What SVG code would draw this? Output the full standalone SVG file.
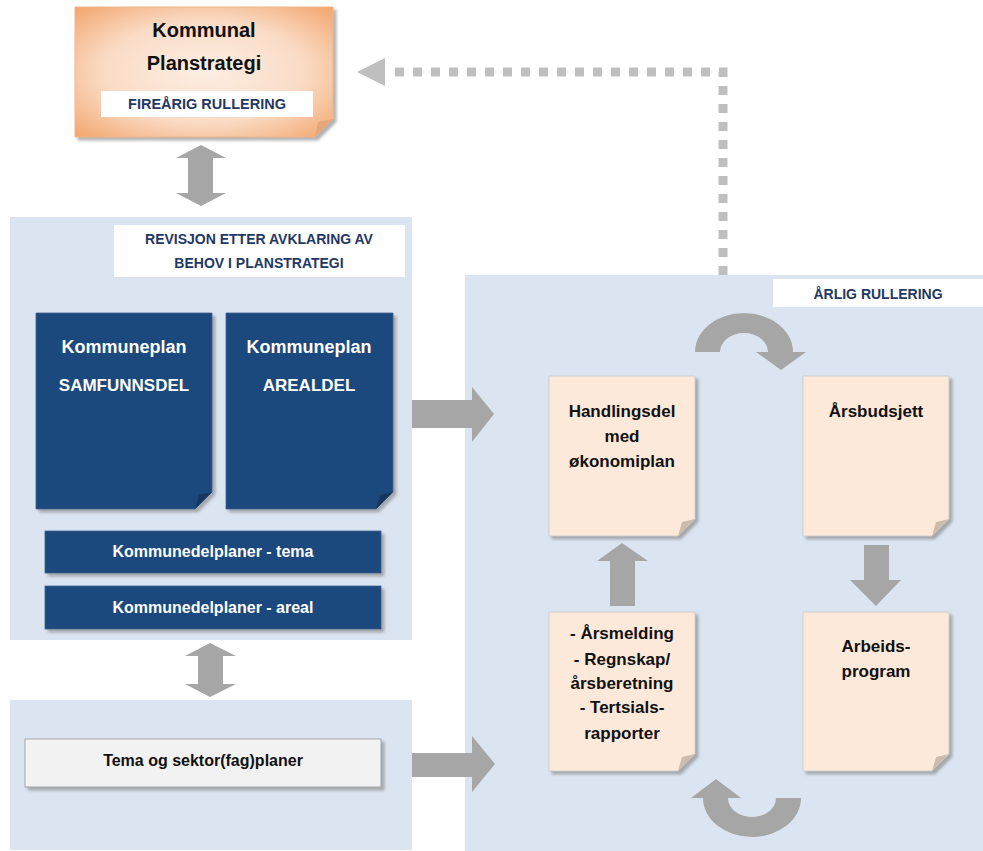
<svg xmlns="http://www.w3.org/2000/svg" width="983" height="851" viewBox="0 0 983 851">
<style>
.panel{fill:#DBE5F1}
.lbl{fill:#FFFFFF}
.navy{font-family:"Liberation Sans",Arial,sans-serif;font-weight:bold;fill:#1F3864;text-anchor:middle}
.wt{font-family:"Liberation Sans",Arial,sans-serif;font-weight:bold;fill:#FFFFFF;text-anchor:middle}
.bk{font-family:"Liberation Sans",Arial,sans-serif;font-weight:bold;fill:#111111;text-anchor:middle}
.blue{fill:#1F497D;stroke:#3A5F8F;stroke-width:0.8}
.bluefold{fill:#16365E}
.peach{fill:#FDE9D9;stroke:#C8C8C8;stroke-width:0.8}
.peachfold{fill:#CDBBAC}
.arr{fill:#A6A6A6}
</style>
<defs>
<filter id="sh" x="-10%" y="-10%" width="130%" height="130%">
<feDropShadow dx="3" dy="3" stdDeviation="1.5" flood-color="#7F7F7F" flood-opacity="0.6"/>
</filter>
<radialGradient id="og" cx="0.5" cy="0.5" r="0.7">
<stop offset="0" stop-color="#FDEEE3"/>
<stop offset="0.55" stop-color="#FADCC6"/>
<stop offset="1" stop-color="#F3A66E"/>
</radialGradient>
</defs>

<!-- panels -->
<rect id="panel-left" class="panel" x="10" y="217" width="402" height="423"/>
<rect id="panel-bottom" class="panel" x="10" y="700" width="402" height="150"/>
<rect id="panel-right" class="panel" x="465" y="275" width="518" height="576"/>

<!-- connectors -->
<g id="connectors">
<path d="M723,275 V72 H392" fill="none" stroke="#BFBFBF" stroke-width="9" stroke-dasharray="9 9"/>
<polygon points="357,72 385,58 385,86" fill="#BFBFBF"/>
<polygon class="arr" points="201,145 226,158 213,158 213,193 226,193 201,206 176,193 188,193 188,158 176,158"/>
<polygon class="arr" points="210,643 236,656 223,656 223,684 236,684 210,697 185,684 198,684 198,656 185,656"/>
<polygon class="arr" points="412,400 472,400 472,387 494,414 472,442 472,428 412,428"/>
<polygon class="arr" points="412,753 472,753 472,736 495,764 472,792 472,777 412,777"/>
<polygon class="arr" points="622,543 648,561 635,561 635,606 610,606 610,561 597,561"/>
<polygon class="arr" points="876,606 850,580 864,580 864,545 889,545 889,580 901,580"/>
<path class="arr" d="M695,352 A49,39 0 0 1 793,352 L806,352 L781,370 L756,352 L768,352 A24,19 0 0 0 720,352 Z"/>
<path class="arr" d="M801,798 A49,39 0 0 1 703,798 L691,798 L716,779 L741,798 L728,798 A24,19 0 0 0 776,798 Z"/>
</g>

<!-- top node -->
<g id="planstrategi">
<path d="M75,7 H333 V119 L315,137 H75 Z" fill="url(#og)" stroke="#F0B58A" stroke-width="1" filter="url(#sh)"/>
<polygon points="315,137 318,122 333,119" fill="#E5A779"/>
<rect class="lbl" x="101" y="91" width="212" height="26"/>
<text class="bk" x="204" y="37" font-size="20">Kommunal</text>
<text class="bk" x="204" y="70" font-size="20">Planstrategi</text>
<text class="navy" x="207" y="109" font-size="14.5">FIREÅRIG RULLERING</text>
</g>

<g id="revisjon-label">
<rect class="lbl" x="114" y="225" width="291" height="52"/>
<text class="navy" x="259" y="244" font-size="14">REVISJON ETTER AVKLARING AV</text>
<text class="navy" x="259" y="268" font-size="14">BEHOV I PLANSTRATEGI</text>
</g>

<g id="samfunnsdel">
<path class="blue" d="M36,313 H212 V492 L195,509 H36 Z" filter="url(#sh)"/>
<polygon class="bluefold" points="195,509 199,495 212,492"/>
<text class="wt" x="124" y="353" font-size="18">Kommuneplan</text>
<text class="wt" x="124" y="391" font-size="17">SAMFUNNSDEL</text>
</g>

<g id="arealdel">
<path class="blue" d="M226,313 H393 V492 L376,509 H226 Z" filter="url(#sh)"/>
<polygon class="bluefold" points="376,509 380,495 393,492"/>
<text class="wt" x="309" y="353" font-size="18">Kommuneplan</text>
<text class="wt" x="309" y="391" font-size="17">AREALDEL</text>
</g>

<g id="kdp-tema">
<rect class="blue" x="45" y="531" width="336" height="42" filter="url(#sh)"/>
<text class="wt" x="213" y="557" font-size="16">Kommunedelplaner - tema</text>
</g>

<g id="kdp-areal">
<rect class="blue" x="45" y="586" width="336" height="43" filter="url(#sh)"/>
<text class="wt" x="213" y="613" font-size="16">Kommunedelplaner - areal</text>
</g>

<g id="tema-sektor">
<rect x="25" y="739" width="356" height="48" fill="#F2F2F2" stroke="#A6A6A6" stroke-width="1" filter="url(#sh)"/>
<text class="bk" x="203" y="766" font-size="16">Tema og sektor(fag)planer</text>
</g>

<g id="arlig-label">
<rect class="lbl" x="773" y="279" width="210" height="28"/>
<text class="navy" x="878" y="299" font-size="14">ÅRLIG RULLERING</text>
</g>

<g id="handlingsdel">
<path class="peach" d="M549,376 H695 V519 L678,536 H549 Z" filter="url(#sh)"/>
<polygon class="peachfold" points="678,536 682,522 695,519"/>
<text class="bk" x="622" y="417" font-size="17">Handlingsdel</text>
<text class="bk" x="622" y="442" font-size="17">med</text>
<text class="bk" x="622" y="467" font-size="17">økonomiplan</text>
</g>

<g id="arsbudsjett">
<path class="peach" d="M803,376 H949 V519 L932,536 H803 Z" filter="url(#sh)"/>
<polygon class="peachfold" points="932,536 936,522 949,519"/>
<text class="bk" x="876" y="417" font-size="17">Årsbudsjett</text>
</g>

<g id="arsmelding">
<path class="peach" d="M549,612 H695 V754 L678,771 H549 Z" filter="url(#sh)"/>
<polygon class="peachfold" points="678,771 682,757 695,754"/>
<text class="bk" x="622" y="639" font-size="17">- Årsmelding</text>
<text class="bk" x="622" y="665" font-size="17">- Regnskap/</text>
<text class="bk" x="622" y="689" font-size="17">årsberetning</text>
<text class="bk" x="622" y="713" font-size="17">- Tertsials-</text>
<text class="bk" x="622" y="739" font-size="17">rapporter</text>
</g>

<g id="arbeidsprogram">
<path class="peach" d="M803,612 H949 V754 L932,771 H803 Z" filter="url(#sh)"/>
<polygon class="peachfold" points="932,771 936,757 949,754"/>
<text class="bk" x="876" y="652" font-size="17">Arbeids-</text>
<text class="bk" x="876" y="677" font-size="17">program</text>
</g>
</svg>
